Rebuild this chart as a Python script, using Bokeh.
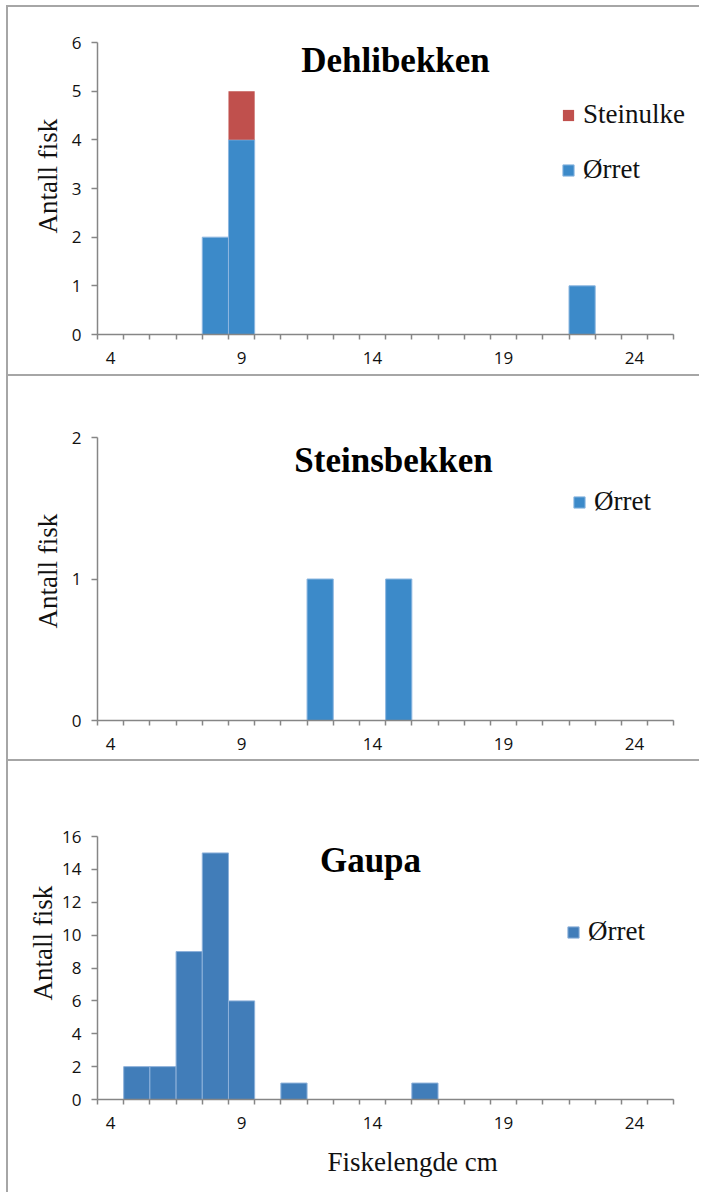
from bokeh.plotting import figure
from bokeh.layouts import column
from bokeh.models import (FixedTicker, Label, Legend, LegendItem, Range1d,
                          ColumnDataSource, Title)
from bokeh.embed import file_html
from bokeh.resources import INLINE

# ---- data ----
lengths = list(range(4, 26))  # fish length classes (cm)
x_tick_labels = [4, 9, 14, 19, 24]

dehli_orret     = [0, 0, 0, 0, 2, 4, 0, 0, 0, 0, 0, 0, 0, 0, 0, 0, 0, 0, 1, 0, 0, 0]
dehli_steinulke = [0, 0, 0, 0, 0, 1, 0, 0, 0, 0, 0, 0, 0, 0, 0, 0, 0, 0, 0, 0, 0, 0]
steins_orret    = [0, 0, 0, 0, 0, 0, 0, 0, 1, 0, 0, 1, 0, 0, 0, 0, 0, 0, 0, 0, 0, 0]
gaupa_orret     = [0, 2, 2, 9, 15, 6, 0, 1, 0, 0, 0, 0, 1, 0, 0, 0, 0, 0, 0, 0, 0, 0]

titles = ["Dehlibekken", "Steinsbekken", "Gaupa"]
y_label = "Antall fisk"
x_label = "Fiskelengde cm"
y_max = [6, 2, 16]
y_step = [1, 1, 2]

BLUE = "#3C8AC9"
BLUE2 = "#417DB9"
RED = "#C0504D"
AXIS = "#868686"
BORDER = "#A6A6A6"
TICK_FONT = "Open Sans"
SERIF = "Liberation Serif"

W = 693


def side_title(text, align, offset, standoff, valign):
    return Title(text=text, align=align, offset=offset, standoff=standoff,
                 vertical_align=valign, text_font=SERIF, text_font_style="normal",
                 text_font_size="27px", text_color="#111111")


def make_panel(height, top, bottom, ymax, ystep, title, title_pos, ylab_offset, ylab_standoff):
    p = figure(width=W, height=height, output_backend="svg", toolbar_location=None,
               x_range=Range1d(3.5, 26.1), y_range=Range1d(0, ymax),
               min_border_left=89, min_border_right=12,
               min_border_top=top, min_border_bottom=bottom)
    p.outline_line_color = None
    p.xgrid.visible = False
    p.ygrid.visible = False
    p.styles = {"border-top": f"2px solid {BORDER}", "border-left": f"2px solid {BORDER}"}

    xa = p.xaxis[0]
    xa.bounds = (3.5, 25.5)
    xa.ticker = FixedTicker(ticks=x_tick_labels,
                            minor_ticks=[v - 0.5 for v in lengths] + [lengths[-1] + 0.5])
    xa.major_tick_in = 0
    xa.major_tick_out = 0
    xa.minor_tick_in = 0
    xa.minor_tick_out = 5
    xa.minor_tick_line_color = AXIS
    xa.minor_tick_line_width = 1.5
    xa.axis_line_color = AXIS
    xa.axis_line_width = 1.5
    xa.major_label_text_font = TICK_FONT
    xa.major_label_text_font_size = "17px"
    xa.major_label_text_color = "#111111"
    xa.major_label_standoff = 12

    ya = p.yaxis[0]
    ya.ticker = FixedTicker(ticks=list(range(0, ymax + 1, ystep)), minor_ticks=[])
    ya.major_tick_in = 0
    ya.major_tick_out = 6
    ya.major_tick_line_color = AXIS
    ya.major_tick_line_width = 1.5
    ya.axis_line_color = AXIS
    ya.axis_line_width = 1.5
    ya.major_label_text_font = TICK_FONT
    ya.major_label_text_font_size = "17px"
    ya.major_label_text_color = "#111111"
    ya.major_label_standoff = 10

    p.add_layout(side_title(y_label, "left", ylab_offset, ylab_standoff, "bottom"), "left")

    p.add_layout(Label(x=title_pos[0], y=title_pos[1], x_units="screen", y_units="screen",
                       text=title, text_font=SERIF, text_font_style="bold",
                       text_font_size="35px", text_align="center",
                       text_baseline="middle", text_color="#000000"))
    return p


def style_legend(p, items, loc):
    leg = Legend(items=items, location=loc, padding=0, margin=0,
                 border_line_color=None, background_fill_alpha=0,
                 glyph_width=14, glyph_height=14, label_height=30,
                 spacing=24, label_standoff=8,
                 label_text_font=SERIF, label_text_font_size="27px",
                 label_text_color="#111111")
    p.add_layout(leg)


# ---- panel 1: Dehlibekken ----
p1 = make_panel(369, 35, 42, y_max[0], y_step[0], titles[0], (298, 274), 101, 12)
src1 = ColumnDataSource(dict(x=lengths, orret=dehli_orret, steinulke=dehli_steinulke))
rs = p1.vbar_stack(["orret", "steinulke"], x="x", width=1, source=src1,
                   fill_color=[BLUE, RED], line_color=["#8DB7E0", None], line_width=1)
style_legend(p1, [LegendItem(label="Steinulke", renderers=[rs[1]]),
                  LegendItem(label="Ørret", renderers=[rs[0]])], (464, 149))

# ---- panel 2: Steinsbekken ----
p2 = make_panel(385, 61, 41, y_max[1], y_step[1], titles[1], (296, 260), 92, 12)
src2 = ColumnDataSource(dict(x=lengths, orret=steins_orret))
r2 = p2.vbar(x="x", top="orret", width=1, source=src2, fill_color=BLUE,
             line_color="#8DB7E0", line_width=1)
style_legend(p2, [LegendItem(label="Ørret", renderers=[r2])], (475, 203))

# ---- panel 3: Gaupa ----
p3 = make_panel(433, 75, 95, y_max[2], y_step[2], titles[2], (273, 239), 99, 3)
src3 = ColumnDataSource(dict(x=lengths, orret=gaupa_orret))
r3 = p3.vbar(x="x", top="orret", width=1, source=src3, fill_color=BLUE2,
             line_color="#8DB1DA", line_width=1)
style_legend(p3, [LegendItem(label="Ørret", renderers=[r3])], (469, 152))
p3.add_layout(side_title(x_label, "left", 230, 30, "top"), "below")

layout = column(p1, p2, p3, spacing=0)
layout.styles = {"margin-left": "6px", "margin-top": "5px"}

open("out.html", "w").write(file_html(layout, INLINE))
